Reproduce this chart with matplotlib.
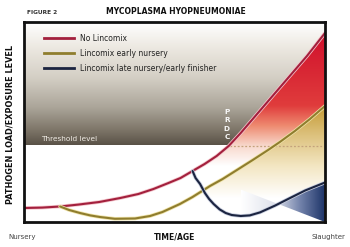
import numpy as np
import matplotlib
matplotlib.use("Agg")
import matplotlib.pyplot as plt
from matplotlib.colors import LinearSegmentedColormap
from matplotlib.patches import Polygon
import matplotlib.patheffects as pe

# ---- data (time 0-100, pathogen load 0-100) ----
red_x = [0, 6, 12, 18, 25, 32, 38, 43, 48, 52, 56, 60, 64, 68, 72, 76, 82, 88, 94, 100]
red_y = [7, 7.2, 7.75, 8.7, 10, 12, 14, 16.5, 19.5, 22, 25.5, 29, 33, 38, 44.5, 51.5, 62, 72.5, 83, 94.5]

yel_x = [12, 15, 18.6, 22, 25.2, 30.2, 36.9, 41.9, 46, 51.8, 56, 61.8, 66, 71.8, 76, 81.1, 85, 90, 95, 100]
yel_y = [7.75, 6, 4.5, 3.3, 2.5, 1.6, 1.75, 3, 5, 9, 12.5, 18, 21.5, 27, 31, 36, 40, 45.5, 51.5, 58]

blu_x = [56, 57, 58.5, 60.1, 61.5, 63, 65, 67, 69, 72, 75, 78.4, 83.4, 88.4, 93.4, 100]
blu_y = [25.5, 22, 19, 14.5, 11.5, 9, 6.3, 4.5, 3.5, 3, 3.3, 4.8, 8.2, 12, 15.75, 19.75]

threshold = 38.5
labels = ["No Lincomix", "Lincomix early nursery", "Lincomix late nursery/early finisher"]
line_colors = ["#a3203d", "#8f7d2e", "#1b2440"]

W, H = 350, 247
fig = plt.figure(figsize=(W / 100, H / 100), dpi=100)
ax = fig.add_axes([24 / W, 25 / H, 301 / W, 200 / H])
ax.set_xlim(0, 100)
ax.set_ylim(0, 100)
ax.set_xticks([])
ax.set_yticks([])
for s in ax.spines.values():
    s.set_linewidth(2.0)
    s.set_color("#111111")
    s.set_zorder(10)


def grad_fill(poly_x, poly_y, cmap, extent, vertical=True, z=1):
    poly = Polygon(np.column_stack([poly_x, poly_y]), closed=True,
                   facecolor="none", edgecolor="none")
    ax.add_patch(poly)
    g = np.linspace(0, 1, 256)
    img = g.reshape(-1, 1) if vertical else g.reshape(1, -1)
    im = ax.imshow(img, cmap=cmap, extent=extent, origin="lower",
                   aspect="auto", zorder=z, interpolation="bilinear")
    im.set_clip_path(poly)


# gray band above threshold
gray_cmap = LinearSegmentedColormap.from_list(
    "g", [(0, "#5a5247"), (0.12, "#7d7568"), (0.3, "#aaa498"),
          (0.55, "#d4cfc5"), (0.8, "#ede9e2"), (1, "#ffffff")])
ax.imshow(np.linspace(0, 1, 256).reshape(-1, 1), cmap=gray_cmap,
          extent=[0, 100, threshold, 100], origin="lower",
          aspect="auto", zorder=1, interpolation="bilinear")

# red fill under red curve
red_cmap = LinearSegmentedColormap.from_list(
    "r", [(0, "#ffffff"), (0.15, "#f8d8cc"), (0.3, "#ee8a70"),
          (0.45, "#e03c3c"), (1, "#d0102c")])
grad_fill(red_x + [100, 0], red_y + [0, 0], red_cmap, [0, 100, 28, 95], z=2)

# yellow fill under yellow curve
yel_cmap = LinearSegmentedColormap.from_list(
    "y", [(0, "#ffffff"), (0.35, "#f3e6c2"), (0.7, "#dcc07a"), (1, "#c49a35")])
grad_fill(yel_x + [100], yel_y + [0], yel_cmap, [0, 100, 12, 58], z=3)

# blue fill under blue curve
blu_cmap = LinearSegmentedColormap.from_list(
    "b", [(0, "#ffffff"), (0.4, "#dfe2ec"), (0.7, "#7282aa"), (1, "#1a3166")])
grad_fill(blu_x + [100], blu_y + [0], blu_cmap, [72, 100, 0, 20], vertical=False, z=4)

# threshold dotted line
ax.plot([67, 99], [38, 38], color="#c4a27c", lw=0.9, ls=(0, (1.5, 1.5)), zorder=5)

# curves
halo = ["#f4c6cc", "#efe3a8", "#c8cede"]
for xs, ys, c, h in zip([red_x, yel_x, blu_x], [red_y, yel_y, blu_y], line_colors, halo):
    ax.plot(xs, ys, color=c, lw=1.5, zorder=6, solid_joinstyle="round",
            solid_capstyle="round",
            path_effects=[pe.Stroke(linewidth=2.6, foreground=h), pe.Normal()])

# legend
handles = [plt.Line2D([], [], color=c, lw=2.0) for c in line_colors]
ax.legend(handles, labels, loc="upper left", bbox_to_anchor=(0.055, 0.955),
          frameon=False, fontsize=5.5, handlelength=4.0, handletextpad=0.7,
          labelspacing=0.75, labelcolor="#222222", borderaxespad=0)

# texts
ax.text(5.5, threshold + 1.5, "Threshold level", color="#efebe4", fontsize=5.3,
        va="bottom", ha="left", zorder=7)
for i, ch in enumerate("PRDC"):
    ax.text(67.4, 55 - i * 4.2, ch, color="#f8f8f8", fontsize=5.2,
            fontweight="heavy", ha="center", va="center", zorder=7)

fig.text(27 / W, 1 - 12 / H, "FIGURE 2", fontsize=4.2, fontweight="bold",
         color="#333333", ha="left", va="center")
fig.text(176 / W, 1 - 12 / H, "MYCOPLASMA HYOPNEUMONIAE", fontsize=5.5,
         fontweight="bold", color="#111111", ha="center", va="center")
fig.text(10 / W, 1 - 124 / H, "PATHOGEN LOAD/EXPOSURE LEVEL", fontsize=5.9,
         fontweight="bold", color="#111111", rotation=90, ha="center", va="center")
fig.text(175 / W, 1 - 237 / H, "TIME/AGE", fontsize=5.5, fontweight="bold",
         color="#111111", ha="center", va="center")
fig.text(8 / W, 1 - 237 / H, "Nursery", fontsize=5, color="#444444",
         ha="left", va="center")
fig.text(345 / W, 1 - 237 / H, "Slaughter", fontsize=5, color="#444444",
         ha="right", va="center")

fig.savefig("out.png", dpi=100)
